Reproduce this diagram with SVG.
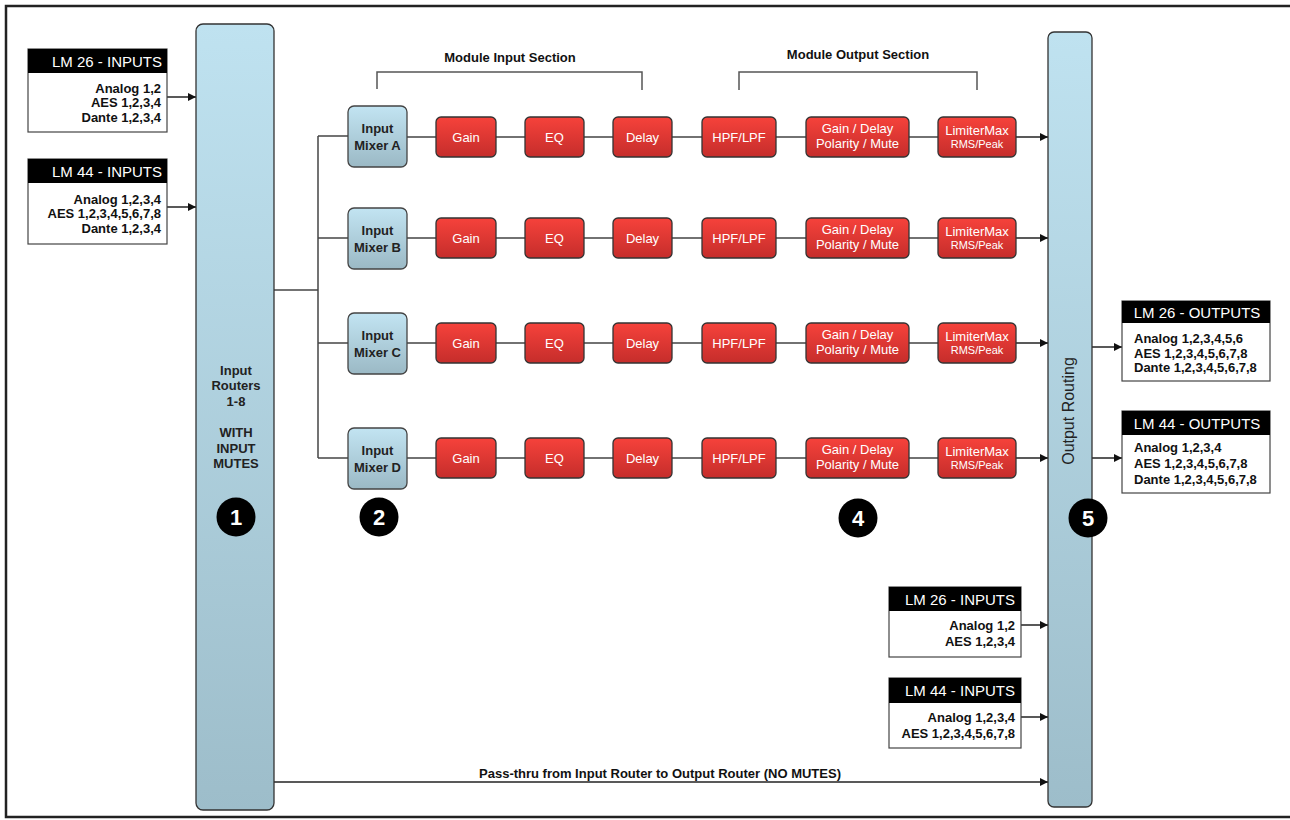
<svg xmlns="http://www.w3.org/2000/svg" width="1290" height="820" viewBox="0 0 1290 820">
<defs>
<linearGradient id="gBlue" x1="0" y1="0" x2="0" y2="1"><stop offset="0" stop-color="#bfe2f0"/><stop offset="1" stop-color="#9dbdca"/></linearGradient>
<linearGradient id="gMix" x1="0" y1="0" x2="0" y2="1"><stop offset="0" stop-color="#c2e4f2"/><stop offset="1" stop-color="#9bb9c5"/></linearGradient>
<linearGradient id="gRed" x1="0" y1="0" x2="0" y2="1"><stop offset="0" stop-color="#f6423b"/><stop offset="1" stop-color="#c52d2b"/></linearGradient>
<marker id="arr" viewBox="0 0 10 10" refX="10" refY="5" markerWidth="10" markerHeight="8" markerUnits="userSpaceOnUse" orient="auto"><path d="M0,0 L10,5 L0,10 z" fill="#111"/></marker>
</defs>
<style>
.router{fill:url(#gBlue);stroke:#333;stroke-width:1.3}
.mix{fill:url(#gMix);stroke:#444;stroke-width:1.3}
.red{fill:url(#gRed);stroke:#333;stroke-width:1.3}
.box{fill:#fff;stroke:#444;stroke-width:1.2}
.hdr{fill:#000}
.ht{font-family:"Liberation Sans",Arial,sans-serif;font-size:15px;fill:#fff}
.bt{font-family:"Liberation Sans",Arial,sans-serif;font-size:13px;font-weight:bold;fill:#111}
.mt{font-family:"Liberation Sans",Arial,sans-serif;font-size:13px;font-weight:bold;fill:#222;text-anchor:middle}
.rt{font-family:"Liberation Sans",Arial,sans-serif;font-size:13px;fill:#fff;text-anchor:middle}
.rs{font-family:"Liberation Sans",Arial,sans-serif;font-size:11px;fill:#fff;text-anchor:middle}
.lbl{font-family:"Liberation Sans",Arial,sans-serif;font-size:13px;font-weight:bold;fill:#111;text-anchor:middle}
.num{font-family:"Liberation Sans",Arial,sans-serif;font-size:22px;font-weight:bold;fill:#fff;text-anchor:middle}
.ln{fill:none;stroke:#444;stroke-width:1.5}
.ar{fill:none;stroke:#222;stroke-width:1.5;marker-end:url(#arr)}
.br{fill:none;stroke:#555;stroke-width:1.5}
</style>
<rect width="1290" height="820" fill="#fff"/>
<path d="M1290,6 H6 V817 H1290" fill="none" stroke="#222" stroke-width="2.5"/>

<g id="connectors">
<line class="ar" x1="167" y1="97" x2="196" y2="97"/>
<line class="ar" x1="167" y1="207" x2="196" y2="207"/>
<polyline class="ln" points="274,290 318,290"/>
<line class="ln" x1="318" y1="136" x2="318" y2="458"/>
<line class="ln" x1="318" y1="136" x2="348" y2="136"/>
<line class="ln" x1="318" y1="238" x2="348" y2="238"/>
<line class="ln" x1="318" y1="343" x2="348" y2="343"/>
<line class="ln" x1="318" y1="458" x2="348" y2="458"/>
<g id="rowlinks">
<path class="ln" d="M407,137H436M496,137H525M584,137H613M672,137H702M776,137H806M909,137H938"/>
<path class="ln" d="M407,238H436M496,238H525M584,238H613M672,238H702M776,238H806M909,238H938"/>
<path class="ln" d="M407,343H436M496,343H525M584,343H613M672,343H702M776,343H806M909,343H938"/>
<path class="ln" d="M407,458H436M496,458H525M584,458H613M672,458H702M776,458H806M909,458H938"/>
</g>
<line class="ar" x1="1016" y1="137" x2="1048" y2="137"/>
<line class="ar" x1="1016" y1="238" x2="1048" y2="238"/>
<line class="ar" x1="1016" y1="343" x2="1048" y2="343"/>
<line class="ar" x1="1016" y1="458" x2="1048" y2="458"/>
<line class="ar" x1="1092" y1="347" x2="1122" y2="347"/>
<line class="ar" x1="1092" y1="458" x2="1122" y2="458"/>
<line class="ar" x1="1021" y1="625" x2="1048" y2="625"/>
<line class="ar" x1="1021" y1="717" x2="1048" y2="717"/>
<line class="ar" x1="274" y1="782" x2="1048" y2="782"/>
</g>
<text class="lbl" x="660" y="778" textLength="362" lengthAdjust="spacingAndGlyphs">Pass-thru from Input Router to Output Router (NO MUTES)</text>

<g id="brackets">
<path class="br" d="M377,89 V72 H642 V90"/>
<text class="lbl" x="510" y="62">Module Input Section</text>
<path class="br" d="M739,90 V72 H977 V90"/>
<text class="lbl" x="858" y="59">Module Output Section</text>
</g>

<g id="in-lm26">
<rect class="box" x="28" y="49" width="139" height="83"/>
<rect class="hdr" x="28" y="49" width="139" height="24"/>
<text class="ht" x="162" y="66.5" text-anchor="end">LM 26 - INPUTS</text>
<text class="bt" x="161" y="92.5" text-anchor="end">Analog 1,2</text>
<text class="bt" x="161" y="107" text-anchor="end">AES 1,2,3,4</text>
<text class="bt" x="161" y="121.5" text-anchor="end">Dante 1,2,3,4</text>
</g>
<g id="in-lm44">
<rect class="box" x="28" y="159" width="139" height="85"/>
<rect class="hdr" x="28" y="159" width="139" height="24"/>
<text class="ht" x="162" y="176.5" text-anchor="end">LM 44 - INPUTS</text>
<text class="bt" x="161" y="203.5" text-anchor="end">Analog 1,2,3,4</text>
<text class="bt" x="161" y="218" text-anchor="end">AES 1,2,3,4,5,6,7,8</text>
<text class="bt" x="161" y="232.5" text-anchor="end">Dante 1,2,3,4</text>
</g>

<g id="input-router">
<rect class="router" x="196" y="24" width="78" height="786" rx="7"/>
<text class="mt" x="236" y="374.5">Input</text>
<text class="mt" x="236" y="390">Routers</text>
<text class="mt" x="236" y="405.5">1-8</text>
<text class="mt" x="236" y="436.5">WITH</text>
<text class="mt" x="236" y="452.5">INPUT</text>
<text class="mt" x="236" y="468">MUTES</text>
<circle cx="236" cy="517" r="19.5" fill="#000"/>
<text class="num" x="236" y="525">1</text>
</g>

<g id="mixer-a"><rect class="mix" x="348" y="106" width="59" height="61" rx="6"/><text class="mt" x="377.5" y="132.5">Input</text><text class="mt" x="377.5" y="149.5">Mixer A</text></g>
<g id="mixer-b"><rect class="mix" x="348" y="208" width="59" height="61" rx="6"/><text class="mt" x="377.5" y="234.5">Input</text><text class="mt" x="377.5" y="251.5">Mixer B</text></g>
<g id="mixer-c"><rect class="mix" x="348" y="313" width="59" height="61" rx="6"/><text class="mt" x="377.5" y="339.5">Input</text><text class="mt" x="377.5" y="356.5">Mixer C</text></g>
<g id="mixer-d"><rect class="mix" x="348" y="428" width="59" height="61" rx="6"/><text class="mt" x="377.5" y="454.5">Input</text><text class="mt" x="377.5" y="471.5">Mixer D</text></g>

<g id="row-a">
<rect class="red" x="436" y="117" width="60" height="40" rx="5"/><text class="rt" x="466" y="141.5">Gain</text>
<rect class="red" x="525" y="117" width="59" height="40" rx="5"/><text class="rt" x="554.5" y="141.5">EQ</text>
<rect class="red" x="613" y="117" width="59" height="40" rx="5"/><text class="rt" x="642.5" y="141.5">Delay</text>
<rect class="red" x="702" y="117" width="74" height="40" rx="5"/><text class="rt" x="739" y="141.5">HPF/LPF</text>
<rect class="red" x="806" y="117" width="103" height="40" rx="5"/><text class="rt" x="857.5" y="133">Gain / Delay</text><text class="rt" x="857.5" y="148">Polarity / Mute</text>
<rect class="red" x="938" y="117" width="78" height="40" rx="5"/><text class="rt" x="977" y="134.5">LimiterMax</text><text class="rs" x="977" y="148">RMS/Peak</text>
</g>
<g id="row-b">
<rect class="red" x="436" y="218" width="60" height="40" rx="5"/><text class="rt" x="466" y="242.5">Gain</text>
<rect class="red" x="525" y="218" width="59" height="40" rx="5"/><text class="rt" x="554.5" y="242.5">EQ</text>
<rect class="red" x="613" y="218" width="59" height="40" rx="5"/><text class="rt" x="642.5" y="242.5">Delay</text>
<rect class="red" x="702" y="218" width="74" height="40" rx="5"/><text class="rt" x="739" y="242.5">HPF/LPF</text>
<rect class="red" x="806" y="218" width="103" height="40" rx="5"/><text class="rt" x="857.5" y="234">Gain / Delay</text><text class="rt" x="857.5" y="249">Polarity / Mute</text>
<rect class="red" x="938" y="218" width="78" height="40" rx="5"/><text class="rt" x="977" y="235.5">LimiterMax</text><text class="rs" x="977" y="249">RMS/Peak</text>
</g>
<g id="row-c">
<rect class="red" x="436" y="323" width="60" height="40" rx="5"/><text class="rt" x="466" y="347.5">Gain</text>
<rect class="red" x="525" y="323" width="59" height="40" rx="5"/><text class="rt" x="554.5" y="347.5">EQ</text>
<rect class="red" x="613" y="323" width="59" height="40" rx="5"/><text class="rt" x="642.5" y="347.5">Delay</text>
<rect class="red" x="702" y="323" width="74" height="40" rx="5"/><text class="rt" x="739" y="347.5">HPF/LPF</text>
<rect class="red" x="806" y="323" width="103" height="40" rx="5"/><text class="rt" x="857.5" y="339">Gain / Delay</text><text class="rt" x="857.5" y="354">Polarity / Mute</text>
<rect class="red" x="938" y="323" width="78" height="40" rx="5"/><text class="rt" x="977" y="340.5">LimiterMax</text><text class="rs" x="977" y="354">RMS/Peak</text>
</g>
<g id="row-d">
<rect class="red" x="436" y="438" width="60" height="40" rx="5"/><text class="rt" x="466" y="462.5">Gain</text>
<rect class="red" x="525" y="438" width="59" height="40" rx="5"/><text class="rt" x="554.5" y="462.5">EQ</text>
<rect class="red" x="613" y="438" width="59" height="40" rx="5"/><text class="rt" x="642.5" y="462.5">Delay</text>
<rect class="red" x="702" y="438" width="74" height="40" rx="5"/><text class="rt" x="739" y="462.5">HPF/LPF</text>
<rect class="red" x="806" y="438" width="103" height="40" rx="5"/><text class="rt" x="857.5" y="454">Gain / Delay</text><text class="rt" x="857.5" y="469">Polarity / Mute</text>
<rect class="red" x="938" y="438" width="78" height="40" rx="5"/><text class="rt" x="977" y="455.5">LimiterMax</text><text class="rs" x="977" y="469">RMS/Peak</text>
</g>

<g id="badge-2"><circle cx="379" cy="517" r="19.5" fill="#000"/><text class="num" x="379" y="525">2</text></g>
<g id="badge-4"><circle cx="858" cy="518" r="19.5" fill="#000"/><text class="num" x="858" y="526">4</text></g>

<g id="output-router">
<rect class="router" x="1048" y="32" width="44" height="775" rx="6"/>
<text x="1074" y="411" transform="rotate(-90 1074 411)" text-anchor="middle" font-family="Liberation Sans, Arial, sans-serif" font-size="16" fill="#222">Output Routing</text>
<circle cx="1088" cy="518" r="19.5" fill="#000"/>
<text class="num" x="1088" y="526">5</text>
</g>

<g id="out-lm26">
<rect class="box" x="1122" y="301" width="148" height="80"/>
<rect class="hdr" x="1122" y="301" width="148" height="22"/>
<text class="ht" x="1197" y="317.5" text-anchor="middle">LM 26 - OUTPUTS</text>
<text class="bt" x="1134" y="342.5">Analog 1,2,3,4,5,6</text>
<text class="bt" x="1134" y="357.5">AES 1,2,3,4,5,6,7,8</text>
<text class="bt" x="1134" y="371.5">Dante 1,2,3,4,5,6,7,8</text>
</g>
<g id="out-lm44">
<rect class="box" x="1122" y="411" width="148" height="82"/>
<rect class="hdr" x="1122" y="411" width="148" height="24"/>
<text class="ht" x="1197" y="428.5" text-anchor="middle">LM 44 - OUTPUTS</text>
<text class="bt" x="1134" y="451.5">Analog 1,2,3,4</text>
<text class="bt" x="1134" y="467.5">AES 1,2,3,4,5,6,7,8</text>
<text class="bt" x="1134" y="483.5">Dante 1,2,3,4,5,6,7,8</text>
</g>

<g id="in2-lm26">
<rect class="box" x="889" y="587" width="132" height="70"/>
<rect class="hdr" x="889" y="587" width="132" height="24"/>
<text class="ht" x="1015" y="604.5" text-anchor="end">LM 26 - INPUTS</text>
<text class="bt" x="1015" y="629.5" text-anchor="end">Analog 1,2</text>
<text class="bt" x="1015" y="645.5" text-anchor="end">AES 1,2,3,4</text>
</g>
<g id="in2-lm44">
<rect class="box" x="889" y="678" width="132" height="70"/>
<rect class="hdr" x="889" y="678" width="132" height="25"/>
<text class="ht" x="1015" y="695.5" text-anchor="end">LM 44 - INPUTS</text>
<text class="bt" x="1015" y="721.5" text-anchor="end">Analog 1,2,3,4</text>
<text class="bt" x="1015" y="737.5" text-anchor="end">AES 1,2,3,4,5,6,7,8</text>
</g>
</svg>
